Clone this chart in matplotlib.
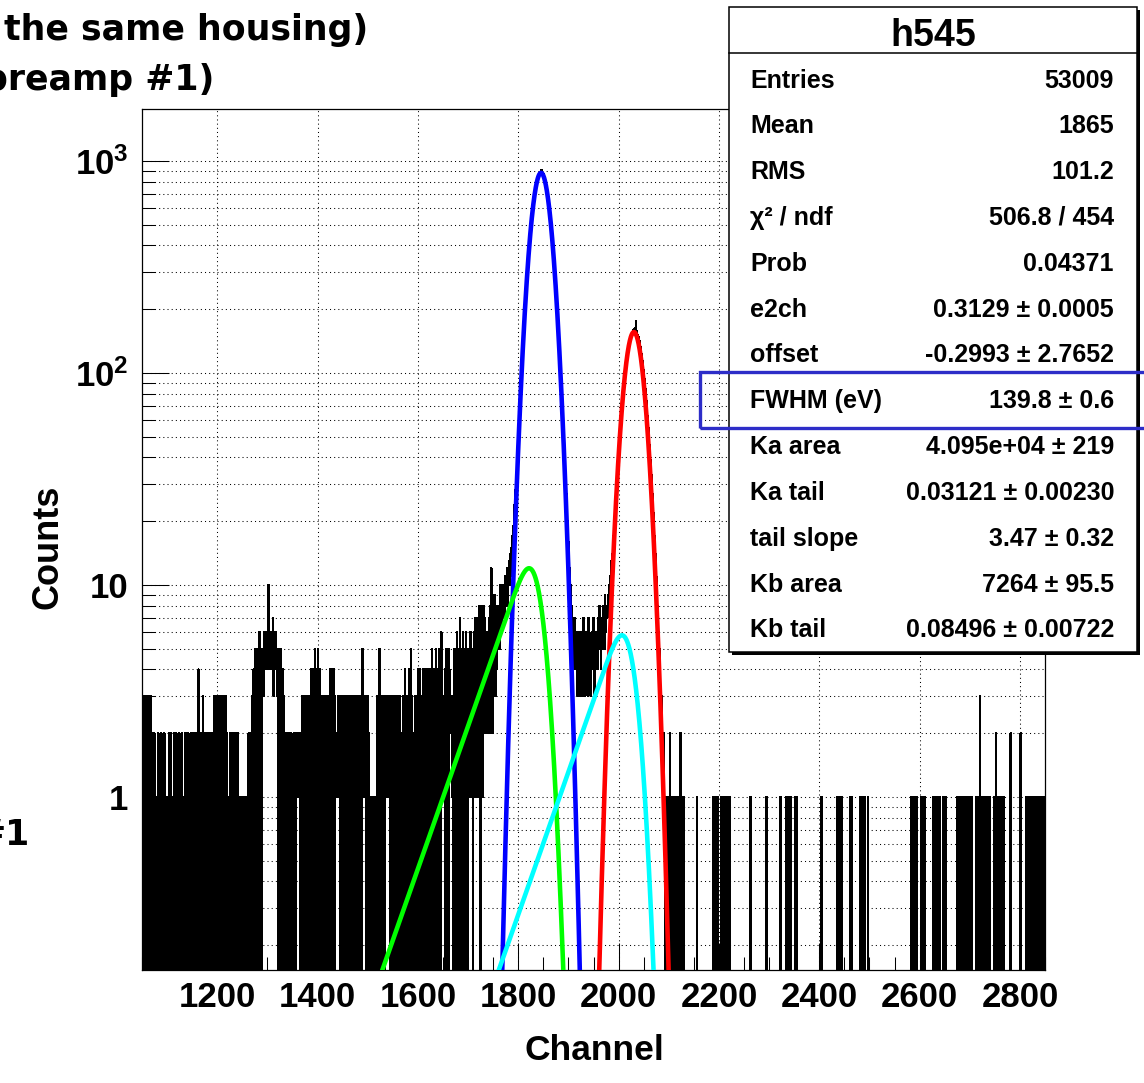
import math
import numpy as np
import matplotlib
matplotlib.use("Agg")
import matplotlib.pyplot as plt
from matplotlib.patches import Rectangle
from matplotlib.lines import Line2D
from matplotlib.ticker import FixedLocator, FixedFormatter, MultipleLocator, NullFormatter

plt.rcParams["font.family"] = ["Liberation Sans", "DejaVu Sans"]
plt.rcParams["font.weight"] = "bold"
plt.rcParams["mathtext.fontset"] = "custom"
plt.rcParams["mathtext.rm"] = "Liberation Sans:bold"
plt.rcParams["mathtext.it"] = "Liberation Sans:bold"
plt.rcParams["mathtext.bf"] = "Liberation Sans:bold"

# histogram h545, one bin per channel starting at 1050
first_channel = 1050

# channels 1050-1765, one base-36 digit per channel (a = 10, c = 12)
low_counts = """
3030230313 3033013020 2010201010 1020101020 1010201001
0102010201 0110201020 1010210102 0101020102 1020101020
1020102010 2041100201 0301020110 2010201020 1020303030
3020103020 3030203020 1011020102 0201020102 0201010101
1010101010 1020102010 3040305011 4050604050 4543654566
54a6545645 4736546453 4050405030 4030201020 1020102010
1020102111 1212102030 2030203020 3020304030 4030504030
5030403020 3011302030 2030403040 3040311212 1312030203
0302030203 0203020302 0302030203 0302030205 1312213020
3020110101 0101101031 0305030203 0302031312 1321302030
2030203011 3020302011 3020403020 3040305030 2011302030
4030403011 4030403040 3040403051 4030405040 3050406131
2322405040 5042322313 0504050605 0407050406 0405060504
4151615140 5161715161 7180608171 8272625362 537282c392 8394738486 7585a6
"""

# channels 1766-2109 (Ka / Kb peaks)
peak_counts = [
    8, 6, 9, 7, 10, 8, 7, 9, 11, 8,
    10, 9, 12, 8, 11, 13, 10, 12, 14, 11,
    15, 13, 17, 19, 18, 22, 24, 21, 28, 30,
    33, 38, 41, 46, 52, 55, 63, 67, 78, 84,
    97, 110, 118, 131, 149, 160, 176, 196, 210, 229,
    255, 271, 293, 322, 341, 372, 398, 415, 452, 470,
    502, 540, 565, 590, 618, 648, 672, 701, 729, 748,
    770, 801, 812, 826, 848, 855, 869, 879, 882, 894,
    911, 887, 880, 872, 866, 851, 840, 822, 805, 790,
    768, 741, 722, 690, 668, 641, 609, 585, 556, 521,
    497, 467, 438, 411, 386, 360, 331, 306, 287, 262,
    243, 218, 203, 183, 166, 152, 138, 122, 112, 99,
    90, 78, 70, 64, 57, 49, 44, 38, 33, 30,
    27, 23, 20, 17, 16, 13, 12, 10, 10, 8,
    8, 6, 7, 5, 6, 4, 5, 7, 4, 5,
    4, 6, 3, 5, 4, 3, 6, 4, 5, 3,
    5, 4, 6, 3, 7, 4, 5, 3, 4, 6,
    4, 5, 3, 7, 4, 6, 5, 4, 3, 5,
    6, 4, 5, 7, 4, 5, 3, 6, 5, 4,
    5, 6, 4, 7, 5, 8, 5, 6, 4, 7,
    6, 5, 8, 6, 7, 5, 9, 6, 8, 7,
    8, 7, 9, 8, 10, 9, 11, 10, 13, 12,
    14, 13, 16, 17, 19, 21, 22, 24, 27, 28,
    31, 33, 37, 39, 42, 45, 50, 52, 57, 60,
    66, 71, 75, 79, 85, 89, 94, 98, 105, 109,
    113, 119, 125, 128, 133, 137, 141, 145, 147, 151,
    154, 155, 157, 159, 161, 158, 163, 157, 175, 155,
    157, 152, 151, 148, 145, 142, 137, 133, 128, 124,
    120, 114, 109, 104, 99, 94, 89, 84, 78, 74,
    69, 63, 59, 55, 51, 46, 43, 39, 36, 33,
    30, 27, 24, 22, 20, 17, 15, 14, 12, 11,
    9, 8, 7, 6, 6, 5, 4, 3, 3, 2,
    3, 2, 2, 1, 2, 1, 0, 1, 1, 0,
    1, 0, 1, 1, 0, 1, 2, 1, 0, 1,
    0, 1, 1, 0,
]

# channels 2110-2849
high_counts = """
1010101010 1102010101 0000000000 0000000000 0000001000
0000000000 0000000000 0000000001 0001000100 0000010001
0101010101 0100000000 0000000000 0000000000 0000000000
0010000000 0000000000 0000000000 0000100000 0000000000
0000000000 0010000000 0000100010 0010000000 0101010000
0000000000 0000000000 0000000000 0000000000 0000100000
0000000000 0000000000 0000001010 1010100000 0000000000
0100010000 0000000000 0100010101 0100000100 0000000000
0000000000 0000000000 0000000000 0000000000 0000000000
0000000000 0000000000 0010101010 1000100000 0010001010
1000000000 0000000101 0100010001 0000000100 0100000000
0000000000 0000010101 0101010101 0100001000 1010100000
0010101010 3010101010 1010101010 1000000010 1020101010
1010101010 0000000000 0200000000 0000000000 0200000000
0001010101 0101010101 0101010101 0101010101
"""

# fit results
stat_labels = ["Entries", "Mean", "RMS", "\u03c7\u00b2 / ndf", "Prob", "e2ch", "offset",
               "FWHM (eV)", "Ka area", "Ka tail", "tail slope", "Kb area", "Kb tail"]
stat_values = ["53009", "1865", "101.2", "506.8 / 454", "0.04371",
               "0.3129 \u00b1 0.0005", "-0.2993 \u00b1 2.7652", "139.8 \u00b1 0.6",
               "4.095e+04 \u00b1 219", "0.03121 \u00b1 0.00230", "3.47 \u00b1 0.32",
               "7264 \u00b1 95.5", "0.08496 \u00b1 0.00722"]
e2ch = 0.3129
offset = -0.2993
fwhm_ev = 139.8
ka_area = 4.095e4
ka_tail = 0.03121
tail_slope = 3.47
kb_area = 7264
kb_tail = 0.08496

# Mn K line energies (eV)
E_KA = 5898.75
E_KB = 6490.45


def digits(text):
    return [int(c, 36) for c in "".join(text.split())]


counts = np.array(digits(low_counts) + peak_counts + digits(high_counts), dtype=float)
assert len(counts) == 1800, len(counts)
edges = np.arange(first_channel, first_channel + len(counts) + 1)

# fit components
sigma = fwhm_ev * e2ch / (2 * math.sqrt(2 * math.log(2)))
beta = tail_slope * sigma
mu_a = e2ch * E_KA + offset
mu_b = e2ch * E_KB + offset
erfc = np.vectorize(math.erfc)


def gauss(x, mu, area):
    return area / (sigma * math.sqrt(2 * math.pi)) * np.exp(-0.5 * ((x - mu) / sigma) ** 2)


def tail(x, mu, area, frac):
    z = (x - mu) / (math.sqrt(2) * sigma) + sigma / (math.sqrt(2) * beta)
    return (area * frac / (2 * beta)
            * np.exp((x - mu) / beta + sigma ** 2 / (2 * beta ** 2)) * erfc(z))


xf = np.linspace(1500, 2150, 1301)

W, H = 1144, 1083
fig = plt.figure(figsize=(W / 100, H / 100), dpi=100)


def fx(px):
    return px / W


def fy(py):
    return 1 - py / H


ax = fig.add_axes([fx(142), fy(970), (1045 - 142) / W, (970 - 109) / H])
ax.set_yscale("log")
ax.set_xlim(1050, 2850)
ax.set_ylim(0.1528, 1759)

# empty bins drop to the bottom of the frame
ax.stairs(np.where(counts > 0, counts, 1e-3), edges, baseline=None,
          color="black", lw=0.75, antialiased=False, zorder=2)

lw_fit = 3.3
ax.plot(xf, gauss(xf, mu_a, ka_area), color="#0000ff", lw=lw_fit, zorder=3)
ax.plot(xf, gauss(xf, mu_b, kb_area), color="#ff0000", lw=lw_fit, zorder=3)
ax.plot(xf, tail(xf, mu_a, ka_area, ka_tail), color="#00ff00", lw=lw_fit, zorder=4)
ax.plot(xf, tail(xf, mu_b, kb_area, kb_tail), color="#00ffff", lw=lw_fit, zorder=4)

# axes, ticks and grid
ax.yaxis.set_major_locator(FixedLocator([1, 10, 100, 1000]))
ax.yaxis.set_major_formatter(FixedFormatter(["1", "10", r"$10^{2}$", r"$10^{3}$"]))
ax.yaxis.set_minor_locator(FixedLocator([k * 10.0 ** p for p in range(-1, 3) for k in range(2, 10)]))
ax.yaxis.set_minor_formatter(NullFormatter())
xmajor = list(range(1200, 2801, 200))
ax.xaxis.set_major_locator(FixedLocator(xmajor))
ax.xaxis.set_major_formatter(FixedFormatter([str(v) for v in xmajor]))
ax.xaxis.set_minor_locator(MultipleLocator(50))

ax.tick_params(axis="both", which="both", direction="in", top=False, right=False,
               width=0.75, color="black")
ax.tick_params(axis="both", which="major", length=19.5, labelsize=25)
ax.tick_params(axis="both", which="minor", length=9.7)
ax.tick_params(axis="y", which="major", pad=10)
ax.tick_params(axis="x", which="major", pad=8)
for spine in ax.spines.values():
    spine.set_linewidth(0.9)
    spine.set_color("black")

grid_style = dict(color="black", lw=0.75, linestyle=(0, (1, 3)))
ax.grid(True, which="major", axis="x", **grid_style)
ax.grid(True, which="both", axis="y", **grid_style)
ax.set_axisbelow(True)

fig.text(fx(48), fy(547), "Counts", rotation=90, ha="center", va="center", fontsize=26)
fig.text(fx(594), fy(1050), "Channel", ha="center", va="center", fontsize=25.5)

# title pieces
title_font = dict(family="DejaVu Sans", weight="bold", fontsize=25)
fig.text(fx(368), fy(30), "the same housing)", ha="right", va="center", **title_font)
fig.text(fx(214), fy(80), "preamp #1)", ha="right", va="center", **title_font)
fig.text(fx(30), fy(835), "#1", ha="right", va="center", **title_font)

# stats box
bx0, by0, bx1, by1 = 729, 7, 1137, 652
fig.add_artist(Rectangle((fx(bx0 + 3), fy(by1 + 3)), (bx1 - bx0) / W, (by1 - by0) / H,
                         transform=fig.transFigure, facecolor="black", edgecolor="none", zorder=10))
fig.add_artist(Rectangle((fx(bx0), fy(by1)), (bx1 - bx0) / W, (by1 - by0) / H,
                         transform=fig.transFigure, facecolor="white", edgecolor="black",
                         lw=1.1, zorder=11))
fig.add_artist(Line2D([fx(bx0), fx(bx1)], [fy(53), fy(53)], transform=fig.transFigure,
                      color="black", lw=1.1, zorder=12))
fig.text(fx(933), fy(46.5), "h545", ha="center", va="baseline", fontsize=27, zorder=12)
for i, (lab, val) in enumerate(zip(stat_labels, stat_values)):
    yb = 79 + 45.83 * i + 8.5
    fig.text(fx(750), fy(yb), lab, ha="left", va="baseline", fontsize=18, zorder=12)
    fig.text(fx(1114), fy(yb), val, ha="right", va="baseline", fontsize=18, zorder=12)

# highlight around the FWHM row
fig.add_artist(Rectangle((fx(700), fy(428)), (1170 - 700) / W, (428 - 372) / H,
                         transform=fig.transFigure, fill=False, edgecolor="#2d2dc8",
                         lw=2.4, zorder=13))

fig.savefig("out.png", dpi=100)
